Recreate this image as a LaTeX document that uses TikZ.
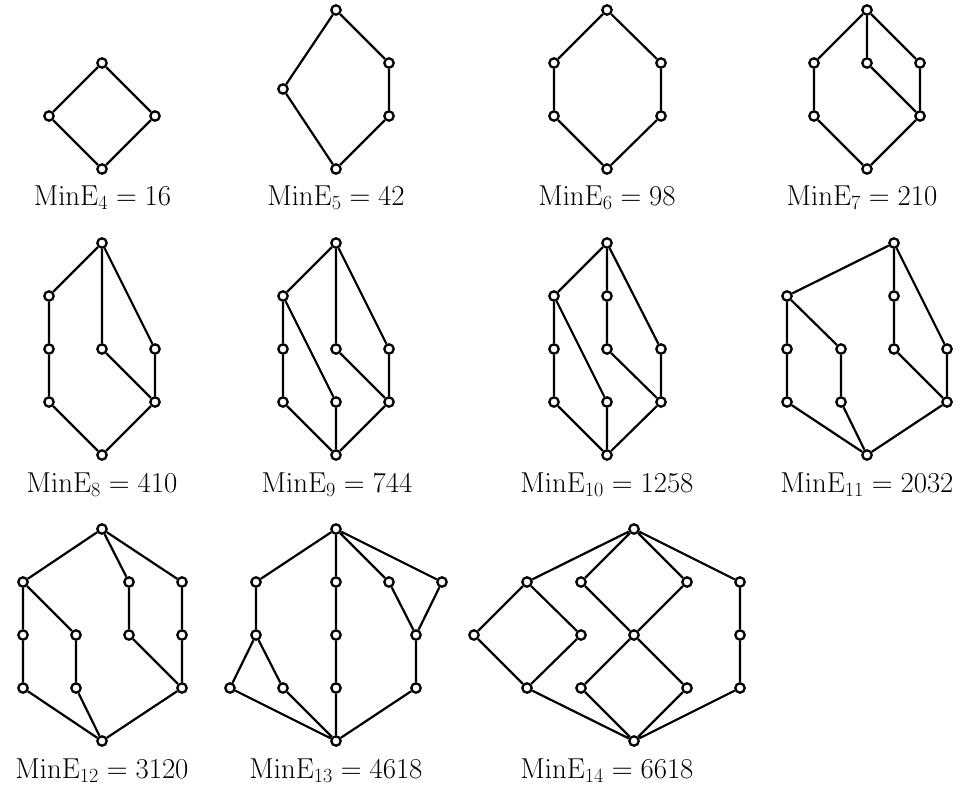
\RequirePackage{fix-cm}
\documentclass[tikz,border=0pt]{standalone}
\begin{document}
\begin{tikzpicture}[x=1pt,y=-1pt,
  v/.style={circle,draw,fill=white,line width=2.3pt,inner sep=0pt,minimum size=9.4pt},
  e/.style={line width=2.2pt},
  lbl/.style={anchor=base,inner sep=0pt,font=\fontsize{28.8}{34}\selectfont}]
\useasboundingbox (0,0) rectangle (968,789);
% MinE4
\node[v] (a1) at (102,63) {};
\node[v] (a2) at (49,116) {};
\node[v] (a3) at (155,116) {};
\node[v] (a4) at (102,169) {};
\draw[e] (a1)--(a2) (a1)--(a3) (a2)--(a4) (a3)--(a4);
\node[lbl] (la) at (102.5,205) {$\mathrm{MinE}_{4}=16$};
% MinE5
\node[v] (b1) at (336,10) {};
\node[v] (b2) at (283,89) {};
\node[v] (b3) at (389,63) {};
\node[v] (b4) at (389,116) {};
\node[v] (b5) at (336,169) {};
\draw[e] (b1)--(b2) (b1)--(b3) (b3)--(b4) (b2)--(b5) (b4)--(b5);
\node[lbl] (lb) at (336,205) {$\mathrm{MinE}_{5}=42$};
% MinE6
\node[v] (c1) at (607,10) {};
\node[v] (c2) at (554,63) {};
\node[v] (c3) at (661,63) {};
\node[v] (c4) at (554,116) {};
\node[v] (c5) at (661,116) {};
\node[v] (c6) at (607,169) {};
\draw[e] (c1)--(c2) (c1)--(c3) (c2)--(c4) (c3)--(c5) (c4)--(c6) (c5)--(c6);
\node[lbl] (lc) at (607,205) {$\mathrm{MinE}_{6}=98$};
% MinE7
\node[v] (d1) at (867,10) {};
\node[v] (d2) at (814,63) {};
\node[v] (d3) at (867,63) {};
\node[v] (d4) at (920,63) {};
\node[v] (d5) at (814,116) {};
\node[v] (d6) at (920,116) {};
\node[v] (d7) at (867,169) {};
\draw[e] (d1)--(d2) (d1)--(d3) (d1)--(d4) (d2)--(d5) (d3)--(d6) (d4)--(d6) (d5)--(d7) (d6)--(d7);
\node[lbl] (ld) at (862,205) {$\mathrm{MinE}_{7}=210$};
% MinE8
\node[v] (e1) at (102,243) {};
\node[v] (e2) at (49,296) {};
\node[v] (e3) at (49,349) {};
\node[v] (e4) at (102,349) {};
\node[v] (e5) at (155,349) {};
\node[v] (e6) at (49,402) {};
\node[v] (e7) at (155,402) {};
\node[v] (e8) at (102,455) {};
\draw[e] (e1)--(e2) (e1)--(e4) (e1)--(e5) (e2)--(e3) (e3)--(e6) (e6)--(e8)
  (e4)--(e7) (e5)--(e7) (e7)--(e8);
\node[lbl] (le) at (102,492) {$\mathrm{MinE}_{8}=410$};
% MinE9
\node[v] (f1) at (336,243) {};
\node[v] (f2) at (283,296) {};
\node[v] (f3) at (283,349) {};
\node[v] (f4) at (336,349) {};
\node[v] (f5) at (389,349) {};
\node[v] (f6) at (283,402) {};
\node[v] (f7) at (336,402) {};
\node[v] (f8) at (389,402) {};
\node[v] (f9) at (336,455) {};
\draw[e] (f1)--(f2) (f1)--(f4) (f1)--(f5) (f2)--(f3) (f3)--(f6) (f6)--(f9)
  (f2)--(f7) (f7)--(f9) (f4)--(f8) (f5)--(f8) (f8)--(f9);
\node[lbl] (lf) at (337,492) {$\mathrm{MinE}_{9}=744$};
% MinE10
\node[v] (g1) at (607,243) {};
\node[v] (g2) at (554,296) {};
\node[v] (g3) at (607,296) {};
\node[v] (g4) at (554,349) {};
\node[v] (g5) at (607,349) {};
\node[v] (g6) at (661,349) {};
\node[v] (g7) at (554,402) {};
\node[v] (g8) at (607,402) {};
\node[v] (g9) at (661,402) {};
\node[v] (g10) at (607,455) {};
\draw[e] (g1)--(g2) (g1)--(g3) (g1)--(g6) (g2)--(g4) (g4)--(g7) (g7)--(g10)
  (g2)--(g8) (g8)--(g10) (g3)--(g5) (g5)--(g9) (g6)--(g9) (g9)--(g10);
\node[lbl] (lg) at (607,492) {$\mathrm{MinE}_{10}=1258$};
% MinE11
\node[v] (h1) at (894,243) {};
\node[v] (h2) at (787,296) {};
\node[v] (h3) at (894,296) {};
\node[v] (h4) at (787,349) {};
\node[v] (h5) at (841,349) {};
\node[v] (h6) at (894,349) {};
\node[v] (h7) at (947,349) {};
\node[v] (h8) at (787,402) {};
\node[v] (h9) at (841,402) {};
\node[v] (h10) at (947,402) {};
\node[v] (h11) at (867,455) {};
\draw[e] (h1)--(h2) (h1)--(h3) (h1)--(h7) (h2)--(h4) (h4)--(h8) (h8)--(h11)
  (h2)--(h5) (h5)--(h9) (h9)--(h11) (h3)--(h6) (h6)--(h10) (h7)--(h10) (h10)--(h11);
\node[lbl] (lh) at (867,492) {$\mathrm{MinE}_{11}=2032$};
% MinE12
\node[v] (i1) at (102,529) {};
\node[v] (i2) at (23,582) {};
\node[v] (i3) at (129,582) {};
\node[v] (i4) at (182,582) {};
\node[v] (i5) at (23,635) {};
\node[v] (i6) at (76,635) {};
\node[v] (i7) at (129,635) {};
\node[v] (i8) at (182,635) {};
\node[v] (i9) at (23,688) {};
\node[v] (i10) at (76,688) {};
\node[v] (i11) at (182,688) {};
\node[v] (i12) at (102,741) {};
\draw[e] (i1)--(i2) (i1)--(i3) (i1)--(i4) (i2)--(i5) (i5)--(i9) (i9)--(i12)
  (i2)--(i6) (i6)--(i10) (i10)--(i12) (i3)--(i7) (i7)--(i11) (i4)--(i8) (i8)--(i11) (i11)--(i12);
\node[lbl] (li) at (102,778) {$\mathrm{MinE}_{12}=3120$};
% MinE13
\node[v] (j1) at (336,529) {};
\node[v] (j2) at (256,582) {};
\node[v] (j3) at (336,582) {};
\node[v] (j4) at (389,582) {};
\node[v] (j5) at (442,582) {};
\node[v] (j6) at (256,635) {};
\node[v] (j7) at (336,635) {};
\node[v] (j8) at (416,635) {};
\node[v] (j9) at (230,688) {};
\node[v] (j10) at (283,688) {};
\node[v] (j11) at (336,688) {};
\node[v] (j12) at (416,688) {};
\node[v] (j13) at (336,741) {};
\draw[e] (j1)--(j2) (j1)--(j3) (j1)--(j4) (j1)--(j5) (j2)--(j6) (j6)--(j9) (j6)--(j10)
  (j9)--(j13) (j10)--(j13) (j3)--(j7) (j7)--(j11) (j11)--(j13) (j4)--(j8) (j5)--(j8)
  (j8)--(j12) (j12)--(j13);
\node[lbl] (lj) at (336,778) {$\mathrm{MinE}_{13}=4618$};
% MinE14
\node[v] (k1) at (634,529) {};
\node[v] (k2) at (527,582) {};
\node[v] (k3) at (581,582) {};
\node[v] (k4) at (687,582) {};
\node[v] (k5) at (740,582) {};
\node[v] (k6) at (474,635) {};
\node[v] (k7) at (581,635) {};
\node[v] (k8) at (634,635) {};
\node[v] (k9) at (740,635) {};
\node[v] (k10) at (527,688) {};
\node[v] (k11) at (581,688) {};
\node[v] (k12) at (687,688) {};
\node[v] (k13) at (740,688) {};
\node[v] (k14) at (634,741) {};
\draw[e] (k1)--(k2) (k1)--(k3) (k1)--(k4) (k1)--(k5) (k2)--(k6) (k2)--(k7)
  (k6)--(k10) (k7)--(k10) (k10)--(k14) (k3)--(k8) (k4)--(k8) (k8)--(k11) (k8)--(k12)
  (k11)--(k14) (k12)--(k14) (k5)--(k9) (k9)--(k13) (k13)--(k14);
\node[lbl] (lk) at (607,778) {$\mathrm{MinE}_{14}=6618$};
\end{tikzpicture}
\end{document}
